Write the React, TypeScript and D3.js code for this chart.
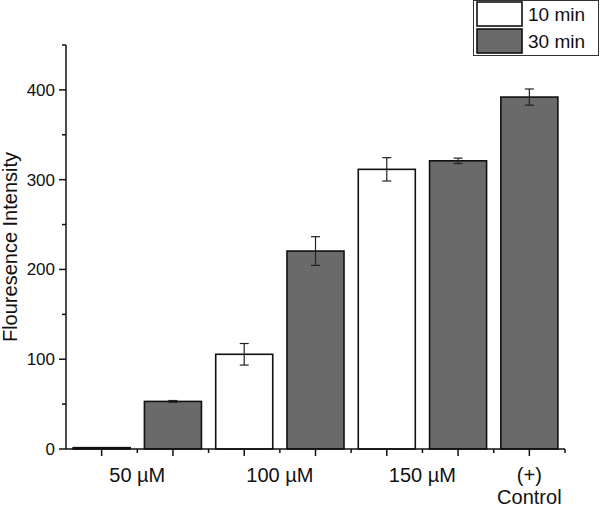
import React from "react";
import * as d3 from "d3";

const groups = ["50 µM", "100 µM", "150 µM", "(+)\nControl"];
const seriesNames = ["10 min", "30 min"];
const values10: (number | null)[] = [1.5, 105.5, 311.5, null];
const errors10: (number | null)[] = [0, 12, 13, null];
const values30: number[] = [53, 220.5, 321, 392];
const errors30: number[] = [1, 16, 3, 9];
const yMajorTicks = [0, 100, 200, 300, 400];
const yMinorTicks = [50, 150, 250, 350, 450];

const W = 600;
const H = 507;
const FONT = "Liberation Sans, Arial, sans-serif";
const GREY = "#6a6a6a";

type Bar = { pos: number; value: number; err: number; series: number };

export default function App() {
  const x = d3.scaleLinear().domain([0.5, 7.5]).range([66, 565]);
  const y = d3.scaleLinear().domain([0, 450]).range([449, 45]);

  const bars: Bar[] = [];
  let pos = 1;
  const labelPos: number[] = [];
  groups.forEach((g, i) => {
    const start = pos;
    const v10 = values10[i];
    if (v10 !== null) {
      bars.push({ pos, value: v10, err: errors10[i] ?? 0, series: 0 });
      pos += 1;
    }
    bars.push({ pos, value: values30[i], err: errors30[i], series: 1 });
    labelPos.push((start + pos) / 2);
    pos += 1;
  });

  const step = x(2) - x(1);
  const bw = step * 0.8;
  const xMajor = d3.range(1, 8);
  const xMinor = d3.range(1.5, 8, 1);

  return (
    <svg width={W} height={H} style={{ position: "absolute", left: 0, top: 0, background: "#fff" }} fontFamily={FONT}>
      {bars.map((b, i) => (
        <rect
          key={"b" + i}
          x={x(b.pos) - bw / 2}
          y={y(b.value)}
          width={bw}
          height={y(0) - y(b.value)}
          fill={b.series === 0 ? "#ffffff" : GREY}
          stroke="#111"
          strokeWidth={1.6}
        />
      ))}
      {bars.filter((b) => b.err > 0).map((b, i) => {
        const cx = x(b.pos);
        return (
          <g key={"e" + i} stroke="#222" strokeWidth={1.2}>
            <line x1={cx} x2={cx} y1={y(b.value + b.err)} y2={y(b.value - b.err)} />
            <line x1={cx - 4.5} x2={cx + 4.5} y1={y(b.value + b.err)} y2={y(b.value + b.err)} />
            <line x1={cx - 4.5} x2={cx + 4.5} y1={y(b.value - b.err)} y2={y(b.value - b.err)} />
          </g>
        );
      })}
      {/* axes */}
      <g stroke="#111" strokeWidth={1.5}>
        <line x1={x(0.5)} x2={x(0.5)} y1={y(450)} y2={y(0)} />
        <line x1={x(0.5)} x2={x(7.5)} y1={y(0)} y2={y(0)} />
        {yMajorTicks.map((t) => (
          <line key={"ym" + t} x1={x(0.5) - 7} x2={x(0.5)} y1={y(t)} y2={y(t)} />
        ))}
        {yMinorTicks.map((t) => (
          <line key={"yn" + t} x1={x(0.5) - 4} x2={x(0.5)} y1={y(t)} y2={y(t)} />
        ))}
        {xMajor.map((t) => (
          <line key={"xm" + t} x1={x(t)} x2={x(t)} y1={y(0)} y2={y(0) + 7} />
        ))}
        {xMinor.map((t) => (
          <line key={"xn" + t} x1={x(t)} x2={x(t)} y1={y(0)} y2={y(0) + 4} />
        ))}
      </g>
      {yMajorTicks.map((t) => (
        <text key={"yl" + t} x={x(0.5) - 11} y={y(t)} dy="0.35em" textAnchor="end" fontSize={17} fill="#111">
          {t}
        </text>
      ))}
      {groups.map((g, i) =>
        g.split("\n").map((line, j) => (
          <text
            key={"xl" + i + "-" + j}
            x={x(labelPos[i])}
            y={482 + j * 22}
            textAnchor="middle"
            fontSize={20}
            fill="#111"
          >
            {line}
          </text>
        ))
      )}
      <text
        transform={`translate(17,${y(225)}) rotate(-90)`}
        textAnchor="middle"
        fontSize={20}
        fill="#111"
      >
        Flouresence Intensity
      </text>
      {/* legend */}
      <g>
        <rect x={473.5} y={0.5} width={125} height={55} fill="#fff" stroke="#333" strokeWidth={1} />
        {seriesNames.map((s, i) => (
          <g key={"lg" + i}>
            <rect
              x={477}
              y={2 + i * 27}
              width={45}
              height={24}
              fill={i === 0 ? "#fff" : GREY}
              stroke="#111"
              strokeWidth={1.6}
            />
            <text x={528} y={21 + i * 27} fontSize={19} fill="#111">
              {s}
            </text>
          </g>
        ))}
      </g>
    </svg>
  );
}
